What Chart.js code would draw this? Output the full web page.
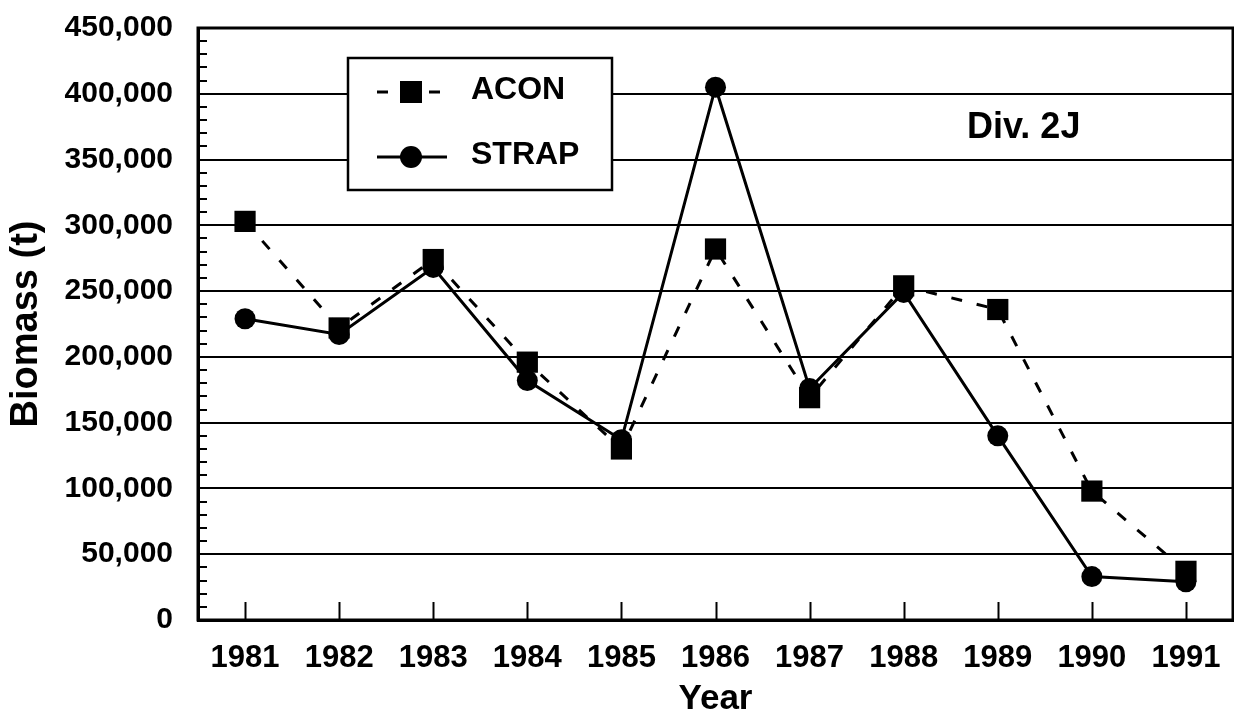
<!DOCTYPE html>
<html><head><meta charset="utf-8">
<script src="https://cdn.jsdelivr.net/npm/chart.js@4.4.1/dist/chart.umd.min.js"></script>
<style>html,body{margin:0;padding:0;background:#fff;}#wrap{width:1234px;height:720px;}</style>
</head><body><div id="wrap"><canvas id="c" width="1234" height="720"></canvas></div>
<script>
// ---- data ----
const years = ['1981','1982','1983','1984','1985','1986','1987','1988','1989','1990','1991'];
const aconValues  = [303000, 222000, 274000, 196000, 130000, 282000, 169000, 254000, 236000, 98000, 37000];
const strapValues = [229000, 217000, 268000, 182000, 137000, 405000, 176000, 249000, 140000, 33000, 29000];
const seriesNames = ['ACON', 'STRAP'];
const yAxisMin = 0, yAxisMax = 450000, yMajorStep = 50000, yMinorStep = 10000;
const xAxisTitle = 'Year';
const yAxisTitle = 'Biomass (t)';
const panelLabel = 'Div. 2J';

const FONT = "'Liberation Sans', Arial, Helvetica, sans-serif";

const decorPlugin = {
  id: 'decor',
  afterDatasetsDraw(chart) {
    const ctx = chart.ctx, a = chart.chartArea;
    const xs = chart.scales.x, ys = chart.scales.y;
    ctx.save();
    ctx.strokeStyle = '#000';
    // minor ticks on y (inside)
    ctx.lineWidth = 2;
    for (let v = yAxisMin; v <= yAxisMax; v += yMinorStep) {
      if (v % yMajorStep === 0) continue;
      const py = Math.round(ys.getPixelForValue(v));
      ctx.beginPath(); ctx.moveTo(a.left, py); ctx.lineTo(a.left + 9, py); ctx.stroke();
    }
    // x ticks (inside, upward)
    for (let i = 0; i < years.length; i++) {
      const px = Math.round(xs.getPixelForValue(i)) + 0.5;
      ctx.beginPath(); ctx.moveTo(px, a.bottom); ctx.lineTo(px, a.bottom - 18); ctx.stroke();
    }
    // frame
    ctx.lineWidth = 3;
    ctx.strokeRect(a.left, a.top, a.right - a.left, a.bottom - a.top);

    // legend box
    const bx = 348, by = 58, bw = 264, bh = 132;
    ctx.fillStyle = '#fff';
    ctx.fillRect(bx, by, bw, bh);
    ctx.lineWidth = 2.5;
    ctx.strokeRect(bx, by, bw, bh);
    const ds = chart.data.datasets;
    const rows = [92, 157];
    ds.forEach((d, i) => {
      const y = rows[i];
      ctx.save();
      ctx.lineWidth = d.borderWidth;
      ctx.strokeStyle = d.borderColor;
      ctx.setLineDash(d.borderDash || []);
      ctx.beginPath(); ctx.moveTo(377, y); ctx.lineTo(447, y); ctx.stroke();
      ctx.restore();
      ctx.fillStyle = '#000';
      if (d.pointStyle === 'rect') {
        ctx.fillRect(400, y - 11, 22, 22);
      } else {
        ctx.beginPath(); ctx.arc(411, y, 11, 0, Math.PI * 2); ctx.fill();
      }
      ctx.font = 'bold 32px ' + FONT;
      ctx.textBaseline = 'middle';
      ctx.textAlign = 'left';
      ctx.fillText(d.label, 471, y - 2);
    });
    // panel label
    ctx.font = 'bold 36px ' + FONT;
    ctx.textBaseline = 'middle';
    ctx.textAlign = 'left';
    ctx.fillStyle = '#000';
    ctx.fillText(panelLabel, 967, 128);
    ctx.restore();
  }
};

new Chart(document.getElementById('c'), {
  type: 'line',
  data: {
    labels: years,
    datasets: [
      {
        label: seriesNames[0], data: aconValues,
        borderColor: '#000', backgroundColor: '#000',
        borderWidth: 3, borderDash: [11, 15],
        pointStyle: 'rect', pointRadius: 15, pointBorderWidth: 0,
        pointBackgroundColor: '#000', tension: 0
      },
      {
        label: seriesNames[1], data: strapValues,
        borderColor: '#000', backgroundColor: '#000',
        borderWidth: 3,
        pointStyle: 'circle', pointRadius: 10.5, pointBorderWidth: 0,
        pointBackgroundColor: '#000', tension: 0
      }
    ]
  },
  options: {
    responsive: false, animation: false, devicePixelRatio: 1,
    layout: { autoPadding: false, padding: { left: 0, right: 1, top: 28, bottom: 0 } },
    plugins: { legend: { display: false }, tooltip: { enabled: false } },
    scales: {
      x: {
        type: 'category', offset: true,
        grid: { display: false, drawTicks: false },
        border: { display: true, color: '#000', width: 3 },
        ticks: { color: '#000', padding: 20, maxRotation: 0, autoSkip: false,
                 font: { family: FONT, size: 31, weight: 'bold' } },
        title: { display: true, text: xAxisTitle, color: '#000', padding: { top: 0, bottom: 0 },
                 font: { family: FONT, size: 35, weight: 'bold' } },
        afterFit(s) { s.height = 100; s.paddingLeft = 0; s.paddingRight = 0; }
      },
      y: {
        min: yAxisMin, max: yAxisMax,
        grid: { color: '#000', lineWidth: 2, drawTicks: false },
        border: { display: true, color: '#000', width: 3 },
        ticks: { stepSize: yMajorStep, color: '#000', padding: 25,
                 font: { family: FONT, size: 30, weight: 'bold' },
                 callback: v => v.toLocaleString('en-US') },
        title: { display: true, text: yAxisTitle, color: '#000', padding: { top: 4, bottom: 0 },
                 font: { family: FONT, size: 38, weight: 'bold' } },
        afterFit(s) { s.width = 198; s.paddingTop = 0; s.paddingBottom = 0; }
      }
    }
  },
  plugins: [decorPlugin]
});
</script></body></html>
